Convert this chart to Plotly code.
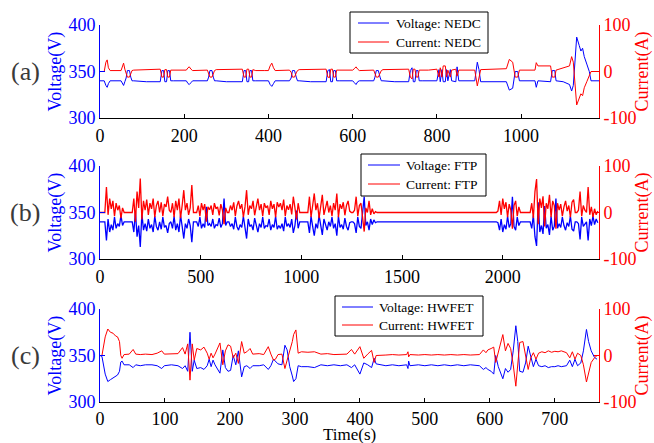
import numpy as np
import plotly.graph_objects as go

# ---------------- NEDC (panel a) : four urban cycles + extra-urban part ----------------
nedc_t1 = [0, 10, 14, 17, 20, 24, 50, 53, 56, 59, 62, 65, 70, 73, 76, 80, 110, 143, 147, 151, 154, 158, 161, 165, 168, 175]
nedc_i1 = [0, 0, 20, 25, 8, 2, 2, 10, 18, 5, -2, -12, -12, -3, 2, 3, 4, 5, -12, -12, 4, 4, -12, -12, 3, 3]
nedc_v1 = [340, 340, 335, 333, 337, 340, 340, 337, 335, 339, 343, 351, 351, 344, 340, 340, 339, 339, 351, 351, 339, 339, 351, 351, 340, 340]
nedc_t2 = [195, 205, 209, 212, 216, 220, 255, 258, 261, 266, 269, 272, 276, 300, 338, 342, 346, 349, 353, 356, 360, 363, 370]
nedc_i2 = [3, 3, 8, 10, 5, 2, 3, -3, -12, -12, -3, 2, 4, 5, 5, -12, -12, 5, 5, -12, -12, 4, 2]
nedc_v2 = [340, 340, 337, 336, 338, 340, 340, 344, 351, 351, 344, 340, 340, 339, 339, 351, 351, 339, 339, 351, 351, 340, 340]
nedc_t3 = [390, 400, 404, 408, 412, 416, 450, 454, 457, 462, 466, 469, 473, 500, 537, 541, 545, 548, 552, 555, 559, 562, 568]
nedc_i3 = [2, 2, 12, 18, 8, 2, 3, -2, -12, -12, -3, 2, 4, 5, 5, -12, -13, 5, 5, -12, -12, 3, 3]
nedc_v3 = [340, 340, 336, 334, 337, 340, 340, 343, 351, 351, 344, 340, 340, 339, 339, 351, 352, 339, 339, 351, 351, 340, 340]
nedc_t4 = [585, 600, 604, 608, 612, 616, 650, 653, 656, 661, 665, 668, 672, 700, 733, 737, 741, 744, 748, 751, 755, 758, 765]
nedc_i4 = [3, 3, 6, 10, 5, 2, 3, -3, -12, -12, -3, 2, 4, 5, 5, -12, -16, 5, 5, -12, -12, 3, 3]
nedc_v4 = [340, 340, 338, 336, 339, 340, 340, 344, 351, 351, 344, 340, 340, 339, 339, 351, 354, 339, 339, 351, 351, 340, 340]
nedc_t5 = [780, 800, 805, 808, 812, 815, 820, 823, 826, 832, 835, 845, 848, 852, 890, 896, 900, 904, 965, 972, 980, 986, 992, 996,
           1033, 1036, 1040, 1070, 1074, 1080, 1083, 1100, 1115, 1120, 1124, 1132, 1138, 1142, 1146, 1150, 1156, 1162, 1166, 1185]
nedc_i5 = [3, 5, -12, 8, -12, 12, 12, -12, 3, -12, 3, 5, -10, 3, 3, -31, -10, 4, 6, 26, 20, -12, -12, 3,
           3, 19, 12, 12, -12, -12, 3, 8, 12, 32, 20, -72, -55, -48, -52, -35, -22, -8, 0, 0]
nedc_v5 = [340, 340, 352, 339, 352, 339, 339, 352, 340, 352, 340, 339, 355, 340, 340, 360, 352, 339, 339, 330, 332, 350, 350, 340,
           340, 333, 340, 339, 351, 351, 340, 339, 336, 329, 335, 387, 378, 372, 375, 366, 358, 350, 340, 340]

# ---------------- FTP (panel b) ----------------
ftp_i_a = [0, 0, 0, 0, 55, -5, 30, 8, 25, -8, 20, 5, 15, -12, 10, 0, 0, 0, 0, 0, 0,
           30, -20, 45, 10, 73, -15, 25, 5, 28, -5, 20, 8, 30, -10, 15, 25, 0, 22, -8, 18, 12, 34, 5,
           0, 20, -10, 25, 5, 30, -12, 15, 48, 5, 20, -5, 10, 59, 0, 0, 0,
           15, -8, 20, 5, 18, -20, 12, 6, 15, -5, 20, 8, 12, -6, 18, 5, -25, 10, 0, 0,
           15, 5, 22, -8, 14, 25, 8, 18, -10, 12, 48, -5, 15, 8, 25, -6, 12, 30, 5, 18, -8, 20, 10, 15, -5,
           25, 8, 18, -10, 22, 12, 20, 5, 28, -8, 15, 6, 18, -4, 34, 10, -15, 20, 0, 0, 0, 0, 0, 0,
           34, -10, 15, 41, 5, 20, -12, 18, 38, -5, 12, 25, 0, 15, -8, 20, 5, 41, -10, 18, 8, 22, -6, 15, 25, 3,
           0, 0, 5, 34, -8, 15, 20, -12, -41, 10, 0, 25, -5, 8, -3, 2]
ftp_v_a = [340, 340, 340, 340, 320, 343, 329, 337, 331, 345, 333, 338, 335, 347, 336, 340, 340, 340, 340, 340, 340,
           329, 351, 324, 336, 313, 349, 331, 338, 330, 343, 333, 337, 329, 346, 335, 331, 340, 332, 345, 334, 336, 328, 338,
           340, 333, 346, 331, 338, 329, 347, 335, 322, 338, 333, 343, 336, 318, 340, 340, 340,
           335, 345, 333, 338, 334, 356, 336, 338, 335, 343, 333, 337, 336, 344, 334, 338, 365, 336, 340, 340,
           335, 338, 332, 345, 335, 331, 337, 334, 346, 336, 322, 343, 335, 337, 331, 344, 336, 329, 338, 334, 345, 333, 336, 335, 343,
           331, 337, 334, 346, 332, 336, 333, 338, 330, 345, 335, 338, 334, 343, 328, 336, 352, 333, 340, 340, 340, 340, 340, 340,
           328, 346, 335, 325, 338, 333, 347, 334, 326, 343, 336, 331, 340, 335, 345, 333, 338, 325, 346, 334, 337, 332, 344, 335, 331, 339,
           340, 340, 338, 328, 345, 335, 333, 347, 367, 336, 340, 331, 343, 337, 342, 339]
ftp_t_flat = [1376, 1968]
ftp_i_flat = [0, 0]
ftp_v_flat = [340, 340]
ftp_i_b = [3, 25, -5, 30, 8, 22, -10, 18, 5, -35, 15, 25, -8, 12, 0, 0, 0, 0, 0, 0, 0,
           20, -12, 45, 72, -25, 30, 10, 35, -30, 20, 8, 38, -10, 25, 15, -35, 20, 5, 18, -8, 12, 25, 3, 15, -10,
           22, 28, 0, 0, 5, 45, -8, 15, 5, 0, 55, -5, 12, -10, 8, -5, 3]
ftp_v_b = [339, 331, 343, 329, 337, 332, 346, 334, 338, 367, 335, 331, 345, 336, 340, 340, 340, 340, 340, 340, 340,
           333, 347, 324, 314, 361, 329, 336, 327, 357, 333, 337, 326, 346, 331, 335, 365, 333, 338, 334, 345, 336, 331, 339, 335, 346,
           332, 330, 340, 340, 338, 321, 345, 335, 338, 340, 320, 343, 336, 346, 337, 343, 339]
ftp_step = 8
ftp_start_b = 1976

# ---------------- HWFET (panel c) ----------------
hw_t = [0, 3, 8, 12, 16, 20, 24, 27, 30, 32, 34, 37, 45, 51, 55, 62, 70, 80, 88, 95, 99, 110, 120, 127, 131, 135, 138.5, 142, 145,
        149, 155, 160, 165, 168, 171, 174, 177, 184.6, 189, 193, 197, 201, 205, 209, 213, 218, 222, 226, 231, 235, 245, 252, 259,
        263, 267, 270, 274, 280, 284.6, 288, 292, 296, 298, 301.5, 305, 310, 320, 330, 340, 350, 360, 370, 380, 387, 392, 400, 403,
        406, 412, 418, 422, 425, 440, 450, 460, 472, 474, 475, 477, 490, 500, 510, 520, 530, 540, 550, 560, 570, 584, 590, 594, 597,
        602, 606, 609, 613, 620, 624, 628, 632, 636, 640, 643, 646, 651, 655, 659, 663, 667, 671, 675, 680, 685, 690, 695, 700, 705,
        710, 718, 723, 727, 731, 735, 740, 744, 748.7, 752, 756, 761, 765]
hw_v = [350, 349, 330, 322, 324, 326, 328, 329, 333, 343, 344, 340, 340, 337, 340, 339, 340, 340, 339, 336, 339, 340, 339, 336, 339, 333, 375, 333, 345,
        336, 337, 335, 339, 346, 338, 345, 340, 331, 356, 337, 333, 334, 350, 340, 355, 327, 338, 339, 336, 339, 339, 340, 335,
        339, 346, 344, 341, 340, 361, 356, 338, 328, 322, 325, 339, 338, 338, 337, 340, 339, 340, 339, 340, 337, 340, 330, 336,
        342, 340, 337, 347, 341, 339, 340, 339, 340, 336, 344, 339, 340, 339, 340, 339, 340, 339, 340, 339, 340, 339, 335, 337, 335,
        333, 330, 350, 338, 325, 336, 332, 335, 355, 382, 365, 333, 332, 342, 360, 348, 338, 346, 339, 338, 339, 337, 338, 338, 339,
        338, 339, 345, 338, 346, 339, 342, 355, 378, 365, 355, 348, 346]
hw_i = [0, 0, 40, 57, 50, 48, 42, 40, 30, 0, -6, 2, 3, 13, 3, 2, 3, 2, 5, 10, 3, 3, 4, 17, 3, 25, -53, 25, -10,
        15, 12, 18, 5, -8, 5, -5, 3, 27, -20, 10, 23, 20, -5, 5, -17, 30, 5, 8, 15, 3, 4, 2, 19,
        3, -10, -8, 2, 3, -28, -10, 8, 30, 45, 55, 5, 8, 7, 8, 3, 4, 2, 3, 3, 13, 3, 19, 8,
        -6, 3, 11, -15, 0, 1, 2, 1, 2, 8, -3, 2, 1, 2, 1, 2, 1, 2, 1, 2, 1, 2, 12, 6, 12,
        15, 18, -15, 5, 45, 10, 26, 15, -20, -66, -25, 28, 30, -5, -30, -5, 6, -8, 5, 8, 6, 10, 7, 9, 8,
        10, 6, -5, 8, -8, 5, 0, -20, -57, -35, -15, -5, 0]

# ---------------- text / axes ----------------
panel_labels = ["(a)", "(b)", "(c)"]
cycle_names = ["NEDC", "FTP", "HWFET"]
x_ranges = [[0, 1185], [0, 2478], [0, 768]]
x_ticks = [[0, 200, 400, 600, 800, 1000], [0, 500, 1000, 1500, 2000], [0, 100, 200, 300, 400, 500, 600, 700]]
v_ticks = [300, 350, 400]
i_ticks = [-100, 0, 100]
i_ticktext = ["-100", "0", "100"]

nedc_t = nedc_t1 + nedc_t2 + nedc_t3 + nedc_t4 + nedc_t5
nedc_i = nedc_i1 + nedc_i2 + nedc_i3 + nedc_i4 + nedc_i5
nedc_v = nedc_v1 + nedc_v2 + nedc_v3 + nedc_v4 + nedc_v5

# FTP time base (one sample every 8 s in the driving parts)
ftp_t = list(ftp_step * np.arange(len(ftp_i_a))) + ftp_t_flat + list(ftp_start_b + ftp_step * np.arange(len(ftp_i_b)))
ftp_i = ftp_i_a + ftp_i_flat + ftp_i_b
ftp_v = ftp_v_a + ftp_v_flat + ftp_v_b

series = [(nedc_t, nedc_v, nedc_i), (ftp_t, ftp_v, ftp_i), (hw_t, hw_v, hw_i)]
line_widths = [1, 1.3, 1]

W, H = 654, 443
BLUE, RED = "#0000FF", "#FF0000"
FONT = "Liberation Serif"
plot_left, plot_right = 100, 599
panel_tops = [25, 166, 309]
panel_bottoms = [118, 259, 402]
tick_standoffs = [1, 1, 0]
# legend boxes in pixels: (left, top, right, bottom, line_x0, line_x1, text_x, row1_y, row2_y)
legend_boxes = [(350, 12, 488, 53, 358, 389, 394, 23, 42),
                (361, 154, 486, 196, 368, 400, 404, 165, 184),
                (335, 296, 483, 336, 342, 373, 377, 307, 325)]

fig = go.Figure()
for k, (t, v, c) in enumerate(series):
    xa = "x" if k == 0 else f"x{k+1}"
    ya = "y" if k == 0 else f"y{k+1}"
    yr = f"y{k+4}"
    fig.add_trace(go.Scatter(x=t, y=v, mode="lines", line=dict(color=BLUE, width=line_widths[k]),
                             name=f"Voltage: {cycle_names[k]}", xaxis=xa, yaxis=ya, showlegend=False))
    fig.add_trace(go.Scatter(x=t, y=c, mode="lines", line=dict(color=RED, width=line_widths[k]),
                             name=f"Current: {cycle_names[k]}", xaxis=xa, yaxis=yr, showlegend=False))

layout = dict(width=W, height=H, margin=dict(l=0, r=0, t=0, b=0, autoexpand=False), autosize=False,
              paper_bgcolor="white", plot_bgcolor="white", showlegend=False,
              font=dict(family=FONT, size=18, color="black"))
xdom = [plot_left / W, plot_right / W]
for k in range(3):
    ydom = [1 - panel_bottoms[k] / H, 1 - panel_tops[k] / H]
    xkey = "xaxis" if k == 0 else f"xaxis{k+1}"
    ykey = "yaxis" if k == 0 else f"yaxis{k+1}"
    yrkey = f"yaxis{k+4}"
    xa_id = "x" if k == 0 else f"x{k+1}"
    ya_id = "y" if k == 0 else f"y{k+1}"
    layout[xkey] = dict(domain=xdom, anchor=ya_id, range=x_ranges[k], tickvals=x_ticks[k],
                        showline=True, linecolor="black", linewidth=1, ticks="inside", ticklen=4,
                        tickcolor="black", showgrid=False, zeroline=False, automargin=False,
                        ticklabelstandoff=tick_standoffs[k],
                        tickfont=dict(family=FONT, size=18, color="black"))
    layout[ykey] = dict(domain=ydom, anchor=xa_id, range=[300, 400], tickvals=v_ticks,
                        showline=True, linecolor=BLUE, linewidth=1, ticks="inside", ticklen=5,
                        tickcolor=BLUE, showgrid=False, zeroline=False, automargin=False,
                        tickfont=dict(family=FONT, size=18, color=BLUE))
    layout[yrkey] = dict(domain=ydom, anchor=xa_id, overlaying=ya_id, side="right", range=[-100, 100],
                         tickvals=i_ticks, ticktext=i_ticktext,
                         showline=True, linecolor=RED, linewidth=1, ticks="inside", ticklen=5,
                         tickcolor=RED, showgrid=False, zeroline=False, automargin=False,
                         tickfont=dict(family=FONT, size=18, color=RED))
fig.update_layout(**layout)

def px(x):
    return x / W

def py(y):
    return 1 - y / H

# axis titles as rotated real text
for k in range(3):
    yc = (panel_tops[k] + panel_bottoms[k]) / 2
    fig.add_annotation(text="Voltage(V)", x=px(55), y=py(yc), xref="paper", yref="paper", showarrow=False,
                       textangle=-90, xanchor="center", yanchor="middle",
                       font=dict(family=FONT, size=18, color=BLUE))
    fig.add_annotation(text="Current(A)", x=px(642), y=py(yc), xref="paper", yref="paper", showarrow=False,
                       textangle=-90, xanchor="center", yanchor="middle",
                       font=dict(family=FONT, size=18, color=RED))
    fig.add_annotation(text=panel_labels[k], x=px(25), y=py(yc), xref="paper", yref="paper",
                       showarrow=False, xanchor="center", yanchor="middle",
                       font=dict(family=FONT, size=26, color="#3a3a3a"))

# legends drawn as box + line samples + real text
for k, (l, t, r, b, lx0, lx1, tx, r1, r2) in enumerate(legend_boxes):
    fig.add_shape(type="rect", xref="paper", yref="paper", x0=px(l), x1=px(r), y0=py(b), y1=py(t),
                  fillcolor="white", line=dict(color="black", width=1), layer="above")
    for yy, col, name in [(r1, BLUE, f"Voltage: {cycle_names[k]}"), (r2, RED, f"Current: {cycle_names[k]}")]:
        fig.add_shape(type="line", xref="paper", yref="paper", x0=px(lx0), x1=px(lx1), y0=py(yy), y1=py(yy),
                      line=dict(color=col, width=1), layer="above")
        fig.add_annotation(text=name, x=px(tx), y=py(yy), xref="paper", yref="paper", showarrow=False,
                           xanchor="left", yanchor="middle", font=dict(family=FONT, size=13.5, color="black"))

fig.add_annotation(text="Time(s)", x=px((plot_left + plot_right) / 2), y=py(434.5), xref="paper", yref="paper",
                   showarrow=False, xanchor="center", yanchor="middle",
                   font=dict(family=FONT, size=17, color="black"))

fig.write_html("out.html", config={"displayModeBar": False},
               post_script="document.body.style.margin='0';")
